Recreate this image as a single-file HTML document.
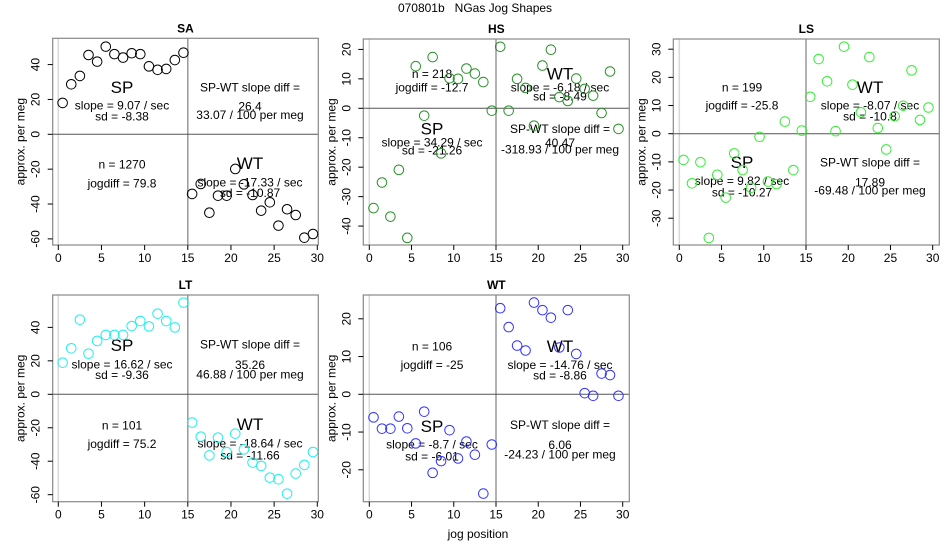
<!DOCTYPE html>
<html><head><meta charset="utf-8">
<style>
html,body{margin:0;padding:0;background:#fff;}
svg{display:block;font-family:"Liberation Sans",Arial,sans-serif;}
</style></head>
<body>
<svg id="chart" width="950" height="550" viewBox="0 0 950 550">
<text x="475" y="12" font-size="12" text-anchor="middle" style="white-space:pre">070801b&#160;&#160;&#160;NGas Jog Shapes</text>
<text x="478" y="538" font-size="12" text-anchor="middle">jog position</text>
</svg>
<script>
// ---- data ----
const jogPositions = [0.5,1.5,2.5,3.5,4.5,5.5,6.5,7.5,8.5,9.5,10.5,11.5,12.5,13.5,14.5,15.5,16.5,17.5,18.5,19.5,20.5,21.5,22.5,23.5,24.5,25.5,26.5,27.5,28.5,29.5];
const xTicks = [0,5,10,15,20,25,30];
const saValues = [18,28.7,33.5,45.5,41.7,50.3,46,44,46.5,46,39,37,37.5,42.6,46.8,-34.2,-28.5,-45,-35.2,-35.2,-19.9,-28.7,-34.8,-43.8,-39,-52.4,-43,-46.3,-59.3,-57.2];
const hsValues = [-33.9,-25.2,-36.8,-20.9,-44,14.3,-2.5,17.4,-15.3,10.2,10,13.5,11.8,8.9,-0.8,20.9,-0.8,10,6.9,-5.9,14.5,19.9,3.8,2.5,10.1,6.6,4.3,-1.6,12.5,-7];
const lsValues = [-9.3,-17.6,-10.1,-37,-14.6,-22.7,-7,-12.9,-19.2,-1.1,-17,-17.9,4.3,-12.9,1.1,13.1,26.5,18.6,0.9,30.9,17.4,7.6,27.2,2,-5.6,6.2,9.9,22.5,4.9,9.3];
const ltValues = [18.9,27.5,44.6,24.3,31.9,35.5,35.5,35.5,40.8,43.8,40.6,48.2,43.8,40,54.8,-16.9,-25.3,-36.5,-25.9,-34.5,-23.5,-32.9,-40.8,-42.8,-49.8,-50.8,-59.4,-47.4,-42.2,-34.5];
const wtValues = [-6.1,-9.1,-9.1,-5.9,-9,-13,-4.6,-20.8,-17.7,-9.5,-17,-12.5,-16,-26.3,-13.3,22.8,17.8,12.9,11.6,24.3,22.3,20.3,12.4,22.3,10.7,0.3,-0.4,5.5,5.1,-0.4];
const saYTicks = [-60,-40,-20,0,20,40];
const hsYTicks = [-40,-30,-20,-10,0,10,20];
const lsYTicks = [-30,-20,-10,0,10,20,30];
const ltYTicks = [-60,-40,-20,0,20,40];
const wtYTicks = [-20,-10,0,10,20];

const NS = "http://www.w3.org/2000/svg";
const svg = document.getElementById("chart");
function mk(tag, attrs, parent){
  const e = document.createElementNS(NS, tag);
  for (const k in attrs) e.setAttribute(k, attrs[k]);
  (parent||svg).appendChild(e);
  return e;
}

const panels = [
 {key:"sa", title:"SA", vals:saValues, ticks:saYTicks, color:"#000000",
  box:[52.7,38.3,318.3,245], x0:58.3, x30:317.3, yZero:134.3, yScale:1.743,
  texts:[["SP",122,87,17],["slope = 9.07 / sec",122,105,12],["sd = -8.38",122,116,12],
   ["SP-WT slope diff =",250,87,12],["26.4",250,106,12],["33.07 / 100 per meg",250,114.5,12],
   ["n = 1270",122,164,12],["jogdiff = 79.8",122,183,12],
   ["WT",250,163,17],["slope = -17.33 / sec",250,182,12],["sd = -10.87",250,192.5,12]]},
 {key:"hs", title:"HS", vals:hsValues, ticks:hsYTicks, color:"#2a902a",
  box:[363.3,39,629.3,245], x0:369.3, x30:622.7, yZero:108.3, yScale:2.944,
  texts:[["n = 218",432,73.5,12],["jogdiff = -12.7",432,87,12],
   ["WT",560,73.5,17],["slope = -6.18 / sec",560,87,12],["sd = -8.49",560,96,12],
   ["SP",432,128.5,17],["slope = 34.29 / sec",432,142,12],["sd = -21.26",432,150,12],
   ["SP-WT slope diff =",560,128.5,12],["40.47",560,142.5,12],["-318.93 / 100 per meg",560,149,12]]},
 {key:"ls", title:"LS", vals:lsValues, ticks:lsYTicks, color:"#33ee33",
  box:[673.3,39,939.3,245], x0:679.3, x30:932.7, yZero:133.7, yScale:2.817,
  texts:[["n = 199",742,87,12],["jogdiff = -25.8",742,105,12],
   ["WT",870,87,17],["slope = -8.07 / sec",870,105,12],["sd = -10.8",870,116,12],
   ["SP",742,162,17],["slope = 9.82 / sec",742,180.5,12],["sd = -10.27",742,192,12],
   ["SP-WT slope diff =",870,162,12],["17.89",870,182,12],["-69.48 / 100 per meg",870,190,12]]},
 {key:"lt", title:"LT", vals:ltValues, ticks:ltYTicks, color:"#22eeee",
  box:[52.7,295,318.3,501.7], x0:58.3, x30:317.3, yZero:394.3, yScale:1.673,
  texts:[["SP",122,345,17],["slope = 16.62 / sec",122,364,12],["sd = -9.36",122,374.5,12],
   ["SP-WT slope diff =",250,344,12],["35.26",250,364.5,12],["46.88 / 100 per meg",250,374,12],
   ["n = 101",122,425,12],["jogdiff = 75.2",122,443.5,12],
   ["WT",250,424,17],["slope = -18.64 / sec",250,443,12],["sd = -11.66",250,455,12]]},
 {key:"wt", title:"WT", vals:wtValues, ticks:wtYTicks, color:"#3333ff",
  box:[363.3,295,629.3,501.7], x0:369.3, x30:622.7, yZero:394.3, yScale:3.775,
  texts:[["n = 106",432,346,12],["jogdiff = -25",432,364.5,12],
   ["WT",560,346,17],["slope = -14.76 / sec",560,364.5,12],["sd = -8.86",560,375,12],
   ["SP",432,426,17],["slope = -8.7 / sec",432,444,12],["sd = -6.01",432,456,12],
   ["SP-WT slope diff =",560,424.5,12],["6.06",560,444.5,12],["-24.23 / 100 per meg",560,454,12]]}
];

panels.forEach(p => {
  const g = mk("g", {});
  
  
  const xs = v => p.x0 + v * (p.x30 - p.x0) / 30;
  const ys = v => p.yZero - v * p.yScale;
  const [L,T,R,B] = p.box;
  const l0 = mk("line", {x1:xs(0), x2:xs(0), y1:T, y2:B, stroke:"#d8d8d8", "stroke-width":1.5}, g);
  
  
  const vl = mk("line", {x1:xs(15), x2:xs(15), y1:T, y2:B, stroke:"#999", "stroke-width":1.5}, g);
  
  
  const hl = mk("line", {x1:L, x2:R, y1:ys(0), y2:ys(0), stroke:"#555", "stroke-width":1}, g);
  
  
  const bx = mk("rect", {x:L, y:T, width:R-L, height:B-T, fill:"none", stroke:"#888", "stroke-width":1.2}, g);
  
  
  const tt = mk("text", {x:(L+R)/2, y:T-6, "font-size":12, "font-weight":"bold", "text-anchor":"middle"}, g);
  tt.textContent = p.title;
  
  
  xTicks.forEach(t => {
    const tk = mk("line", {x1:xs(t), x2:xs(t), y1:B, y2:B+5, stroke:"#000"}, g);
    
    
    const tl = mk("text", {x:xs(t), y:B+17, "font-size":12, "text-anchor":"middle"}, g);
    tl.textContent = t;
    
    
  });
  const xa = mk("line", {x1:xs(0), x2:xs(30), y1:B+5, y2:B+5, stroke:"#000", "stroke-opacity":0}, g);
  
  
  const lo = p.ticks[0], hi = p.ticks[p.ticks.length-1];
  const ya = mk("line", {x1:L-5, x2:L-5, y1:ys(lo), y2:ys(hi), stroke:"#000", "stroke-opacity":0}, g);
  
  
  p.ticks.forEach(t => {
    const tk = mk("line", {x1:L-5, x2:L, y1:ys(t), y2:ys(t), stroke:"#000"}, g);
    
    
    const tl = mk("text", {x:L-13, y:ys(t), "font-size":12, "text-anchor":"middle",
      transform:`rotate(-90 ${L-13} ${ys(t)})`}, g);
    tl.textContent = t;
    
    
  });
  const yt = mk("text", {x:L-28, y:(T+B)/2, "font-size":12, "text-anchor":"middle",
    transform:`rotate(-90 ${L-28} ${(T+B)/2})`}, g);
  yt.textContent = "approx. per meg";
  
  
  p.texts.forEach(a => {
    const t = mk("text", {x:a[1], y:a[2] + a[3]*0.36, "font-size":a[3], "text-anchor":"middle"}, g);
    t.textContent = a[0];
    
    
  });
  p.vals.forEach((v, i) => {
    const c = mk("circle", {cx:xs(jogPositions[i]), cy:ys(v), r:4.8, fill:"none", stroke:p.color, "stroke-width":1}, g);
    
    
  });
});
</script>
</body></html>
